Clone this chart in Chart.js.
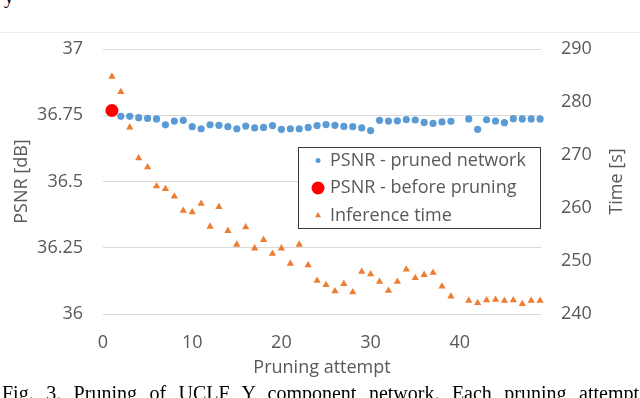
<!DOCTYPE html>
<html>
<head>
<meta charset="utf-8">
<script src="https://cdn.jsdelivr.net/npm/chart.js@4.4.1/dist/chart.umd.min.js"></script>
<style>
  html, body { margin: 0; padding: 0; background: #fff; }
  #wrap { position: relative; width: 640px; height: 398px; overflow: hidden; }
  #chart-box { position: absolute; left: 0; top: 0; width: 640px; height: 398px; }
  .page-edge { position: absolute; left: 0; top: 32px; width: 640px; height: 1px; background: #ececec; }
  .prev-line { position: absolute; left: 4px; top: -14px; font: 20px/20px "Liberation Serif", serif; color: #000; }
  .caption {
    position: absolute; left: 2px; top: 383px; width: 637px;
    font: 20px/20px "Liberation Serif", "Times New Roman", serif; color: #000;
    text-align: justify; text-align-last: justify;
  }
</style>
</head>
<body>
<div id="wrap">
  <div class="prev-line">y</div>
  <div class="page-edge"></div>
  <div id="chart-box"><canvas id="pruneChart"></canvas></div>
  <div class="caption">Fig. 3. Pruning of UCLF Y component network. Each pruning attempt</div>
</div>
<script>
// Data
const attemptsPruned = [2, 3, 4, 5, 6, 7, 8, 9, 10, 11, 12, 13, 14, 15, 16, 17, 18, 19, 20,
  21, 22, 23, 24, 25, 26, 27, 28, 29, 30, 31, 32, 33, 34, 35, 36, 37, 38, 39,
  41, 42, 43, 44, 45, 46, 47, 48, 49];
const psnrPruned = [36.746, 36.746, 36.741, 36.738, 36.736, 36.714, 36.728, 36.731, 36.707,
  36.699, 36.714, 36.712, 36.707, 36.699, 36.709, 36.702, 36.704, 36.711, 36.697,
  36.699, 36.699, 36.704, 36.711, 36.715, 36.712, 36.708, 36.707, 36.702, 36.692,
  36.731, 36.728, 36.729, 36.734, 36.732, 36.723, 36.719, 36.725, 36.727,
  36.736, 36.697, 36.733, 36.728, 36.722, 36.737, 36.736, 36.736, 36.736];
const attemptsBefore = [1];
const psnrBefore = [36.768];
const attemptsTime = [1, 2, 3, 4, 5, 6, 7, 8, 9, 10, 11, 12, 13, 14, 15, 16, 17, 18, 19, 20,
  21, 22, 23, 24, 25, 26, 27, 28, 29, 30, 31, 32, 33, 34, 35, 36, 37, 38, 39,
  41, 42, 43, 44, 45, 46, 47, 48, 49];
const inferenceTime = [284.8, 281.9, 275.2, 269.4, 267.7, 264.1, 263.6, 262.2, 259.5, 259.2,
  260.8, 256.5, 260.2, 255.7, 253.1, 256.4, 252.4, 254.0, 251.4, 252.4,
  249.5, 253.1, 249.2, 246.3, 245.5, 244.3, 245.7, 244.1, 248.0, 247.5,
  246.1, 244.4, 246.1, 248.4, 246.8, 247.4, 247.8, 245.2, 243.3,
  242.5, 242.1, 242.6, 242.7, 242.5, 242.6, 241.9, 242.5, 242.5];

const xTicks = [0, 10, 20, 30, 40];
const psnrTicks = [36, 36.25, 36.5, 36.75, 37];
const timeTicks = [240, 250, 260, 270, 280, 290];

const xTitle = "Pruning attempt";
const psnrTitle = "PSNR [dB]";
const timeTitle = "Time [s]";

// Styles
const fontFamily = "'Open Sans', sans-serif";
const textColor = "#595959";
const legendRadius = [2.5, 6.5, 3.5];

const toPoints = (xs, ys) => xs.map((x, i) => ({ x, y: ys[i] }));
const fixTicks = (list) => (scale) => {
  scale.ticks = list.map((value) => ({ value }));
};

// Axis titles + legend box drawn on top of the plot
const overlay = {
  id: "overlay",
  afterDraw(chart) {
    const { ctx, chartArea: a } = chart;
    ctx.save();
    ctx.fillStyle = textColor;
    ctx.font = `18px ${fontFamily}`;
    ctx.textAlign = "center";
    ctx.textBaseline = "middle";
    ctx.fillText(xTitle, (a.left + a.right) / 2, a.bottom + 54);

    const midY = (a.top + a.bottom) / 2;
    [[psnrTitle, 22], [timeTitle, 617]].forEach(([t, x]) => {
      ctx.save();
      ctx.translate(x, midY);
      ctx.rotate(-Math.PI / 2);
      ctx.fillText(t, 0, 0);
      ctx.restore();
    });

    // legend
    const box = { left: 298.5, top: 147.5, width: 242, height: 81 };
    ctx.strokeStyle = "#3a3a3a";
    ctx.lineWidth = 1;
    ctx.fillStyle = "#fff";
    ctx.fillRect(box.left, box.top, box.width, box.height);
    ctx.strokeRect(box.left, box.top, box.width, box.height);

    ctx.textAlign = "left";
    chart.data.datasets.forEach((ds, i) => {
      const y = box.top + 13 + i * 27.5;
      ctx.fillStyle = ds.backgroundColor;
      Chart.helpers.drawPoint(ctx, {
        pointStyle: ds.pointStyle,
        radius: legendRadius[i],
        rotation: 0,
        borderWidth: 0,
      }, 318, y);
      ctx.fillStyle = textColor;
      ctx.fillText(ds.label, 330, y);
    });
    ctx.restore();
  },
};

const tickFont = { family: fontFamily, size: 18 };

const initChart = () => {
  const ctx = document.getElementById("pruneChart").getContext("2d");
  new Chart(ctx, {
    type: "scatter",
    data: {
      datasets: [
        {
          label: "PSNR - pruned network",
          data: toPoints(attemptsPruned, psnrPruned),
          yAxisID: "y",
          backgroundColor: "#5B9BD5",
          borderColor: "#5B9BD5",
          pointStyle: "circle",
          pointRadius: 3.6,
          borderWidth: 0,
          order: 1,
          clip: false,
        },
        {
          label: "PSNR - before pruning",
          data: toPoints(attemptsBefore, psnrBefore),
          yAxisID: "y",
          backgroundColor: "#FF0000",
          borderColor: "#FF0000",
          pointStyle: "circle",
          pointRadius: 6.5,
          borderWidth: 0,
          order: 0,
          clip: false,
        },
        {
          label: "Inference time",
          data: toPoints(attemptsTime, inferenceTime),
          yAxisID: "y1",
          backgroundColor: "#ED7D31",
          borderColor: "#ED7D31",
          pointStyle: "triangle",
          pointRadius: 4.2,
          borderWidth: 0,
          order: 2,
          clip: false,
        },
      ],
    },
    options: {
      responsive: true,
      maintainAspectRatio: false,
      animation: false,
      layout: { padding: { top: 49, left: 0, right: 0, bottom: 0 } },
      plugins: {
        legend: { display: false },
        tooltip: { enabled: false },
      },
      scales: {
        x: {
          type: "linear",
          min: 0,
          max: 49.1,
          afterBuildTicks: fixTicks(xTicks),
          afterFit: (s) => { s.height = 84; },
          grid: { display: false, drawTicks: false },
          border: { display: false },
          ticks: { color: textColor, font: tickFont, padding: 18, maxRotation: 0 },
        },
        y: {
          position: "left",
          min: 36,
          max: 37,
          afterBuildTicks: fixTicks(psnrTicks),
          afterFit: (s) => { s.width = 103; },
          grid: { color: "#d9d9d9", lineWidth: 1, drawTicks: false },
          border: { display: false },
          ticks: { color: textColor, font: tickFont, padding: 20, callback: (v) => String(v) },
        },
        y1: {
          position: "right",
          min: 240,
          max: 290,
          afterBuildTicks: fixTicks(timeTicks),
          afterFit: (s) => { s.width = 99; },
          grid: { display: false, drawTicks: false },
          border: { display: false },
          ticks: { color: textColor, font: tickFont, padding: 20 },
        },
      },
    },
    plugins: [overlay],
  });
};

initChart();
</script>
</body>
</html>
